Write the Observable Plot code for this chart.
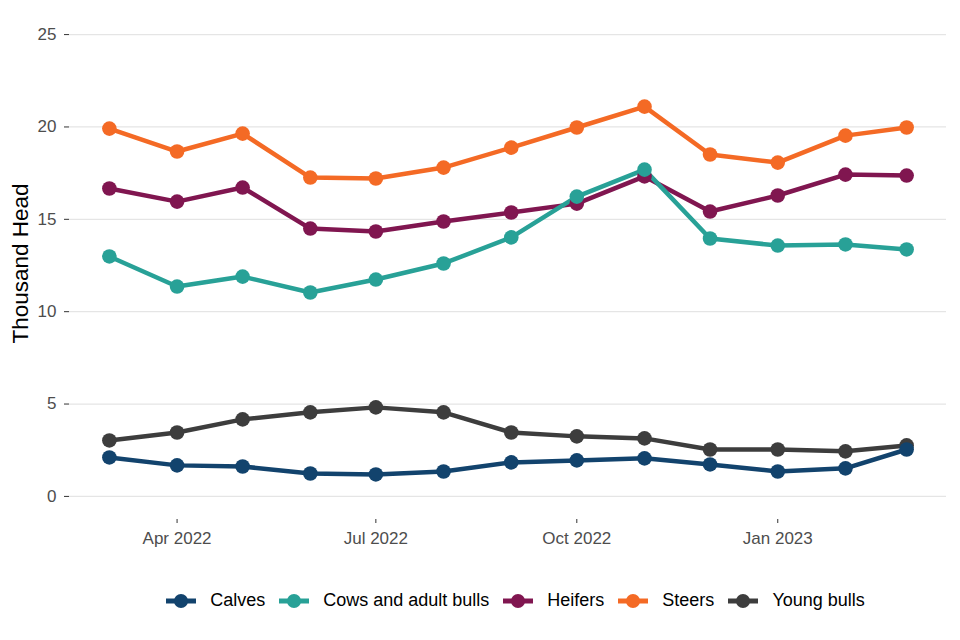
<!DOCTYPE html>
<html>
<head>
<meta charset="utf-8">
<script src="https://cdn.jsdelivr.net/npm/d3@7"></script>
<script src="https://cdn.jsdelivr.net/npm/@observablehq/plot@0.6"></script>
<style>
  html, body { margin: 0; padding: 0; background: #fff; }
  body { width: 960px; height: 640px; position: relative; overflow: hidden; font-family: "Liberation Sans", Arial, sans-serif; }
  #legend { position: absolute; top: 590px; left: 0; width: 960px; display: flex; justify-content: center; align-items: center; font-size: 18px; color: #000; padding-left: 71px; box-sizing: border-box; }
  .item { display: flex; align-items: center; margin-right: 14px; }
  .item:last-child { margin-right: 0; }
  .item svg { margin-right: 14px; }
</style>
</head>
<body>
<div id="chart"></div>
<div id="legend"></div>
<script>
const months = ["2022-03-01","2022-04-01","2022-05-01","2022-06-01","2022-07-01","2022-08-01","2022-09-01","2022-10-01","2022-11-01","2022-12-01","2023-01-01","2023-02-01","2023-03-01"];
const seriesNames = ["Calves", "Cows and adult bulls", "Heifers", "Steers", "Young bulls"];
const seriesColors = ["#12436D", "#28A197", "#801650", "#F46A25", "#3D3D3D"];
const calves     = [2.11, 1.68, 1.62, 1.24, 1.19, 1.35, 1.84, 1.95, 2.06, 1.73, 1.35, 1.52, 2.54];
const cows       = [12.99, 11.36, 11.90, 11.04, 11.74, 12.61, 14.02, 16.23, 17.69, 13.96, 13.58, 13.64, 13.37];
const heifers    = [16.67, 15.96, 16.72, 14.50, 14.34, 14.88, 15.37, 15.85, 17.32, 15.42, 16.29, 17.42, 17.37];
const steers     = [19.91, 18.67, 19.64, 17.26, 17.21, 17.80, 18.88, 19.97, 21.10, 18.51, 18.07, 19.53, 19.97];
const youngBulls = [3.03, 3.46, 4.17, 4.55, 4.82, 4.55, 3.46, 3.25, 3.14, 2.54, 2.54, 2.44, 2.76];
const yTicks = [0, 5, 10, 15, 20, 25];
const xTicks = ["2022-04-01", "2022-07-01", "2022-10-01", "2023-01-01"];
const yTitle = "Thousand Head";

const seriesValues = [calves, cows, heifers, steers, youngBulls];
const data = [];
// draw in reverse order so Calves end on top
for (let s = seriesNames.length - 1; s >= 0; s--) {
  months.forEach((m, i) => data.push({date: new Date(m + "T00:00:00Z"), value: seriesValues[s][i], series: seriesNames[s]}));
}

const t0 = new Date(months[0] + "T00:00:00Z").getTime();
const t1 = new Date(months[months.length - 1] + "T00:00:00Z").getTime();
const pad = (t1 - t0) * 0.05;
const fmt = d3.utcFormat("%b %Y");

const chart = Plot.plot({
  width: 960,
  height: 560,
  marginLeft: 69,
  marginRight: 14,
  marginTop: 11,
  marginBottom: 41,
  style: {fontFamily: "'Liberation Sans', Arial, sans-serif", background: "#fff"},
  x: {type: "utc", domain: [new Date(t0 - pad), new Date(t1 + pad)]},
  y: {domain: [-1.25, 26.25]},
  color: {domain: seriesNames, range: seriesColors},
  marks: [
    Plot.gridY(yTicks, {stroke: "#e5e5e5", strokeOpacity: 1, strokeWidth: 1.3}),
    Plot.axisY(yTicks, {tickSize: 5, tickPadding: 8, fontSize: 17, fill: "#4d4d4d", stroke: "#333", label: null}),
    Plot.axisX(xTicks.map(d => new Date(d + "T00:00:00Z")), {tickSize: 4, tickPadding: 8, fontSize: 17, fill: "#4d4d4d", stroke: "#333", tickFormat: fmt, label: null}),
    Plot.line(data, {x: "date", y: "value", z: "series", stroke: "series", strokeWidth: 4.5, strokeLinejoin: "round", strokeLinecap: "butt"}),
    Plot.dot(data, {x: "date", y: "value", fill: "series", r: 7.3, stroke: null}),
    Plot.text([yTitle], {frameAnchor: "left", textAnchor: "middle", dx: -49, dy: -2, rotate: -90, fontSize: 22.5, fill: "#000"})
  ]
});
document.getElementById("chart").appendChild(chart);

const legend = document.getElementById("legend");
seriesNames.forEach((name, i) => {
  const item = document.createElement("div");
  item.className = "item";
  item.innerHTML = `<svg width="30" height="16" viewBox="0 0 30 16"><line x1="0" y1="8" x2="30" y2="8" stroke="${seriesColors[i]}" stroke-width="5"/><circle cx="15" cy="8" r="7" fill="${seriesColors[i]}"/></svg><span>${name}</span>`;
  legend.appendChild(item);
});
</script>
</body>
</html>
